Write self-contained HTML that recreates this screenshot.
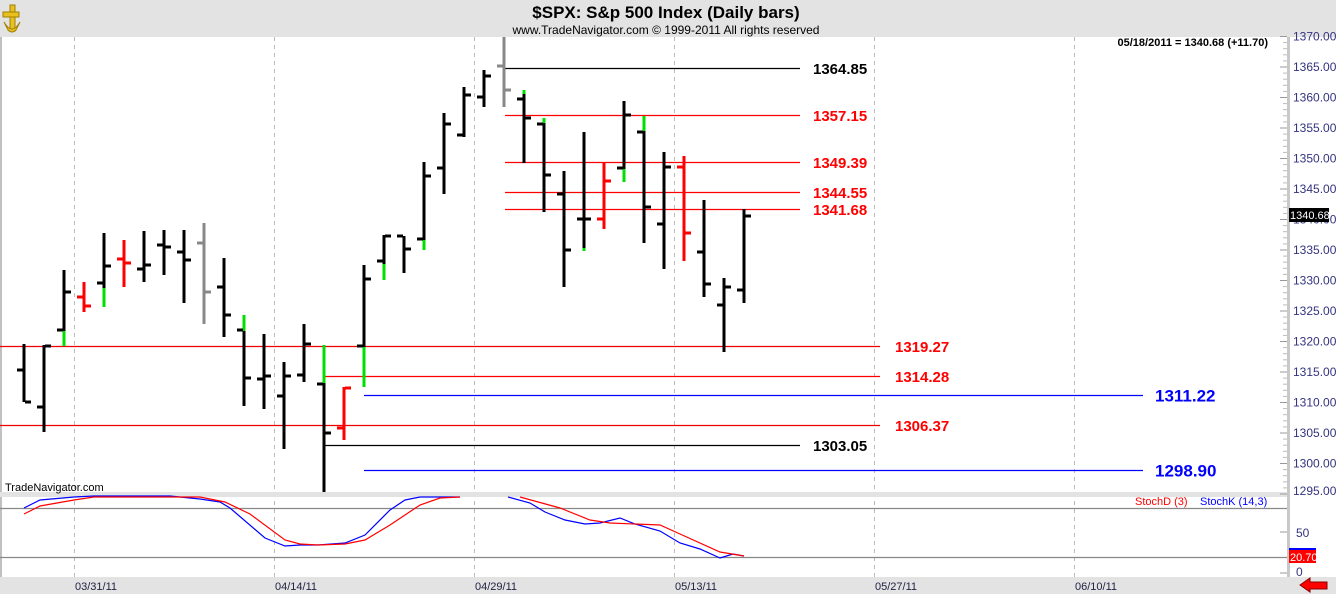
<!DOCTYPE html>
<html><head><meta charset="utf-8"><style>
body{margin:0;width:1336px;height:594px;overflow:hidden;background:#e3e3e3;font-family:"Liberation Sans",Arial,sans-serif}
svg{display:block}
</style></head><body>
<svg id="s" width="1336" height="594" xmlns="http://www.w3.org/2000/svg" font-family="Liberation Sans, Arial, sans-serif">
<rect x="0" y="0" width="1336" height="594" fill="#e3e3e3"/>
<rect x="0" y="37" width="1336" height="540" fill="#fff"/>
<rect x="0" y="37" width="2" height="541" fill="#c0c0c0"/>
<rect x="1287" y="37" width="3" height="541" fill="#c8c8c8"/>
<g stroke="#bbb" stroke-dasharray="4,4" stroke-width="1">
<line x1="74.5" y1="37" x2="74.5" y2="578"/><line x1="274.5" y1="37" x2="274.5" y2="578"/>
<line x1="474.5" y1="37" x2="474.5" y2="578"/><line x1="674.5" y1="37" x2="674.5" y2="578"/>
<line x1="874.5" y1="37" x2="874.5" y2="578"/><line x1="1074.5" y1="37" x2="1074.5" y2="578"/>
</g>
<!-- logo -->
<g fill="#e8c020" stroke="#a08000" stroke-width="1">
<rect x="10" y="5" width="5" height="26"/><rect x="3" y="12" width="16" height="5"/>
<path d="M4 22 Q12 36 20 22 L16 30 Q12 34 8 30Z"/>
</g>
<text x="666" y="18" text-anchor="middle" font-size="17" font-weight="bold" fill="#000">$SPX:  S&amp;p 500 Index  (Daily bars)</text>
<text x="666" y="34" text-anchor="middle" font-size="12" fill="#000">www.TradeNavigator.com © 1999-2011 All rights reserved</text>
<text x="1268" y="46" text-anchor="end" font-size="11" font-weight="bold" fill="#000">05/18/2011 = 1340.68 (+11.70)</text>
<g id="levels"></g>
<g id="bars"></g>
<rect x="0" y="492" width="1287" height="5" fill="#e3e3e3"/>
<g id="axis" font-size="12" fill="#333380"></g>
<rect x="1289" y="208" width="40" height="14" fill="#000"/>
<text x="1290" y="219" font-size="11" fill="#fff">1340.68</text>
<text x="5" y="491" font-size="11" fill="#000">TradeNavigator.com</text>
<line x1="0" y1="508.5" x2="1287" y2="508.5" stroke="#888" stroke-width="1.3"/>
<line x1="0" y1="557.5" x2="1287" y2="557.5" stroke="#888" stroke-width="1.3"/>
<polyline fill="none" stroke="#00f" stroke-width="1.2" points="24,508 40,500 74,497 94,496 170,496 200,499 220,502 230,508 265,538 285,546 300,545 318,545 345,543 365,535 390,510 405,500 420,497 460,497"/>
<polyline fill="none" stroke="#00f" stroke-width="1.2" points="508,497 530,503 545,512 565,520 585,524 600,523 620,518 635,524 660,531 680,543 700,549 720,558 733,554 744,556"/>
<polyline fill="none" stroke="#f00" stroke-width="1.2" points="24,514 40,506 74,500 94,497 200,497 225,502 250,514 285,540 300,544 318,545 345,544 365,540 390,525 420,505 440,498 460,497"/>
<polyline fill="none" stroke="#f00" stroke-width="1.2" points="520,497 560,508 590,520 610,523 660,525 680,534 720,552 744,556"/>
<text x="1135" y="505" font-size="11" fill="#f00">StochD (3)</text>
<text x="1200" y="505" font-size="11" fill="#00f">StochK (14,3)</text>
<g stroke="#999"><line x1="1280" y1="532" x2="1287" y2="532"/><line x1="1280" y1="573" x2="1287" y2="573"/></g>
<text x="1296" y="537" font-size="12" fill="#333380">50</text>
<text x="1296" y="576" font-size="12" fill="#333380">0</text>
<rect x="1289" y="548" width="27" height="2" fill="#00f"/>
<rect x="1289" y="550" width="27" height="13" fill="#f00"/>
<text x="1290" y="561" font-size="11" fill="#fff">20.70</text>
<rect x="0" y="577" width="1336" height="17" fill="#e3e3e3"/>
<g font-size="11" fill="#222244">
<text x="75" y="590">03/31/11</text><text x="275" y="590">04/14/11</text><text x="475" y="590">04/29/11</text>
<text x="675" y="590">05/13/11</text><text x="875" y="590">05/27/11</text><text x="1075" y="590">06/10/11</text>
</g>
<path d="M1300 585 L1310 578 L1310 582 L1327 582 L1327 589 L1310 589 L1310 592 Z" fill="#f00" stroke="#800" stroke-width="1"/>
</svg>
<script>
var NS="http://www.w3.org/2000/svg";
function el(p,t,a){var e=document.createElementNS(NS,t);for(var k in a)e.setAttribute(k,a[k]);p.appendChild(e);return e;}
var Y=function(p){return 36.5+(1370-p)*6.1;};
var lv=document.getElementById('levels');
var L=[[1364.85,505,800,'#000','#000',813,15],[1357.15,505,800,'#f00','#f00',813,15],[1349.39,505,800,'#f00','#f00',813,15],
[1344.55,505,800,'#f00','#f00',813,15],[1341.68,505,800,'#f00','#f00',813,15],[1319.27,0,880,'#e00','#f00',895,15],
[1314.28,324,880,'#f00','#f00',895,15],[1311.22,364,1143,'#00f','#00f',1155,17],[1306.37,0,880,'#e00','#f00',895,15],
[1303.05,324,800,'#000','#000',813,15],[1298.90,364,1143,'#00f','#00f',1155,17]];
L.forEach(function(l){var y=Math.round(Y(l[0]))+0.5;
el(lv,'line',{x1:l[1],x2:l[2],y1:y,y2:y,stroke:l[3],'stroke-width':1.2});
var t=el(lv,'text',{x:l[5],y:y+l[6]*0.36,'font-size':l[6],'font-weight':'bold',fill:l[4]});t.textContent=l[0].toFixed(2);});
var ax=document.getElementById('axis');
for(var p=1370;p>=1295;p-=5){var y=Y(p);el(ax,'line',{x1:1280,x2:1287,y1:y,y2:y,stroke:'#999'});
var t=el(ax,'text',{x:1293,y:Math.min(y+4,495)});t.textContent=p.toFixed(2);
for(var q=1;q<5;q++){var yy=Y(p-q);if(yy<492)el(ax,'line',{x1:1283,x2:1287,y1:yy,y2:yy,stroke:'#bbb'});}}
var K='#000',R='#f00',G='#888';
var B=[[24,344,402,370,402,K],[44,345,432,407,346,K],[64,270,346,330,292,K,331,346],[84,282,312,297,306,R],
[104,233,307,283,266,K,288,307],[124,240,287,259,263,R],[144,231,282,269,265,K],[164,230,275,245,247,K],
[184,230,303,252,260,K],[204,223,324,243,292,G],[224,258,337,287,315,K],[244,315,406,330,378,K,315,331],
[264,334,409,379,376,K],[284,362,449,396,376,K],[304,324,382,375,344,K],[324,345,494,384,433,K,345,383],
[344,387,440,428,388,R],[364,265,387,346,279,K,347,387],[384,235,280,261,236,K,264,280],[404,236,273,236,249,K],
[424,162,250,239,176,K,240,250],[444,113,194,168,124,K],[464,87,137,135,95,K],[484,70,107,97,76,K],
[504,37,107,66,90,G],[524,90,163,99,118,K,90,94],[544,118,212,124,175,K,118,123],[564,171,287,194,250,K],
[584,132,251,219,219,K,248,251],[604,162,229,219,181,R],[624,101,182,168,115,K,169,182],[644,116,243,132,207,K,116,131],
[664,152,269,224,167,K],[684,156,261,167,233,R],[704,200,297,252,284,K],[724,278,352,305,287,K],[744,209,303,290,216,K]];
var bg=document.getElementById('bars');
B.forEach(function(b){var x=b[0];
el(bg,'rect',{x:x-1.5,y:b[1],width:3,height:b[2]-b[1],fill:b[5]});
if(b.length>6)el(bg,'rect',{x:x-1.5,y:b[6],width:3,height:b[7]-b[6],fill:'#00e000'});
el(bg,'rect',{x:x-7,y:b[3]-1.5,width:6,height:3,fill:b[5]});
el(bg,'rect',{x:x+1,y:b[4]-1.5,width:6,height:3,fill:b[5]});});
</script>
</body></html>
